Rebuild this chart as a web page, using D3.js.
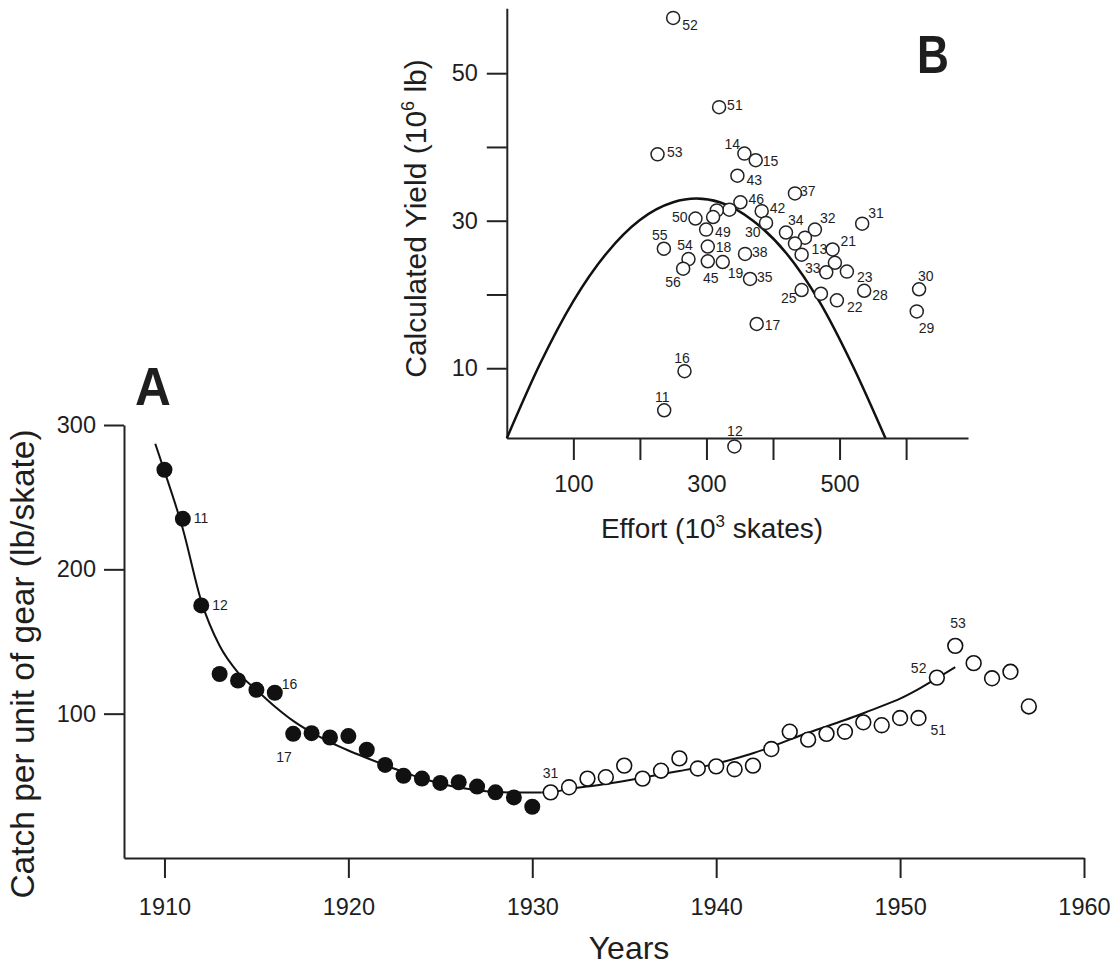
<!DOCTYPE html>
<html>
<head>
<meta charset="utf-8">
<script src="https://cdn.jsdelivr.net/npm/d3@7"></script>
<style>
  body { margin: 0; background: #fff; }
  text { font-family: "Liberation Sans", Arial, sans-serif; fill: #1e1e1e; }
</style>
</head>
<body>
<script>
// ---- panel A : catch per unit of gear ----
const filledYears = [1910,1911,1912,1913,1914,1915,1916,1917,1918,1919,1920,1921,1922,1923,1924,1925,1926,1927,1928,1929,1930]
const filledCatch = [269,235,175,127.5,123,116.5,114.5,86,86.5,83.5,84.5,75,64.5,57,55,52,52.5,49.5,45.5,42,35.5]
const openYears = [1931,1932,1933,1934,1935,1936,1937,1938,1939,1940,1941,1942,1943,1944,1945,1946,1947,1948,1949,1950,1951,1952,1953,1954,1955,1956,1957]
const openCatch = [45.5,49,55,56,64,55,60.5,69,62,63.5,61.5,64,75.5,87.5,82,86,87.5,94,92,97,97,125,147,135,124.5,129,105]
const fit1Years = [1909.5,1910,1911,1912,1913,1914,1915,1916,1917,1918,1919,1920,1921,1922,1923,1924,1925,1926,1927,1928,1929,1930,1930.5]
const fit1Catch = [287,268,228,178,147,128.5,116.5,105,95,87,80.3,74.5,69.3,64.3,59.5,55.2,51.6,48.8,47,45.9,45.4,45.3,45.4]
const fit2Years = [1930.5,1931,1932,1933,1934,1935,1936,1937,1938,1939,1940,1941,1942,1943,1944,1945,1946,1947,1948,1949,1950,1951,1952,1953]
const fit2Catch = [45.4,45.6,47.8,49.5,51.2,53.3,55.6,58,60.3,62.6,65.4,68.8,72.6,77,82,86.8,91.2,95.6,100.3,105.2,110.4,117,124.5,132.2]
const yearTicks = [1910,1920,1930,1940,1950,1960]
const catchTicks = [100,200,300]
const aLabelYears = [1911,1912,1916,1917,1931,1951,1952,1953]
const aLabelText = ["11","12","16","17","31","51","52","53"]

// ---- panel B : yield vs effort ----
const bLabel = ["52","51","53","14","15","43","37","46","","","42","50","","49","30","31","34","32","","","13","21","","33","23","55","54","56","18","45","19","38","35","25","","22","28","30","29","17","16","11","12"]
const bEffort = [250,319,226.5,357,374,346.5,433,351,334.5,315.5,383,283.5,310,299.5,389.5,534,419.5,463,448,433,443,489.5,493,480,511,236,273,265,302,302,324.5,358,365.5,443,472,496,537,619.5,616,375.5,267,236.5,342]
const bYield = [57.5,45.4,39.0,39.1,38.2,36.1,33.7,32.5,31.5,31.4,31.3,30.3,30.5,28.8,29.7,29.6,28.4,28.8,27.7,26.9,25.4,26.1,24.3,23.0,23.1,26.2,24.8,23.5,26.5,24.5,24.4,25.5,22.1,20.6,20.1,19.2,20.5,20.7,17.7,16.0,9.6,4.3,-0.6]
const curveEffort = [0,50,100,150,200,250,285,320,370,420,470,520,569]
const curveYield = [0.5,10.6,19.1,25.6,30.1,32.5,33,32.5,30,25.6,19,10.3,0.5]
const effortTicks = [100,200,300,400,500,600]
const yieldTicks = [10,20,30,40,50]

// label placement (text start / baseline relative to the point)
const aLabelOffset = [[11,4],[11,5],[7,-4],[-17,28],[-8,-14],[12,17],[-26,-5],[-5,-18]]
const bLabelOffset = [[9,12],[8,3],[9.5,2.5],[-20,-4.5],[7,6],[9,9],[5,3],[8,1.5],null,null,
  [8,2],[-23.5,3.5],null,[9,7.5],[-21,14],[6,-6],[2,-7.7],[5,-7],null,null,
  [10,-1],[8,-3],null,[-21.3,0.5],[10,10],[-11.8,-8.7],[-11.3,-9],[-18,18],[8,5.7],[-4.8,22],
  [5,16],[7,3],[7,3],[-20.7,13],null,[10,12],[8,9],[-1,-8],[2,22],[8,6],
  [-10.3,-8],[-9.3,-8],[-7.3,-10]]

const svg = d3.select("body").append("svg")
  .attr("width", 1120).attr("height", 968)

function styleAxis(g, size) {
  g.selectAll("path, line").attr("stroke", "#222").attr("stroke-width", 2)
  g.selectAll("text").style("font-size", size + "px").attr("fill", "#1e1e1e")
}

// ===== A =====
const xA = d3.scaleLinear().domain([1907.8, 1960]).range([124, 1084])
const yA = d3.scaleLinear().domain([0, 300]).range([858, 425])

svg.append("g").attr("transform", "translate(0,858)")
  .call(d3.axisBottom(xA).tickValues(yearTicks).tickSize(20).tickPadding(20)
    .tickSizeOuter(0).tickFormat(d3.format("d")))
  .call(g => styleAxis(g, 23.5))

svg.append("g").attr("transform", "translate(124,0)")
  .call(d3.axisLeft(yA).tickValues(catchTicks).tickSize(20).tickPadding(8).tickSizeOuter(0))
  .call(g => styleAxis(g, 23.5))

const lineA = d3.line().x(d => xA(d[0])).y(d => yA(d[1])).curve(d3.curveMonotoneX)
svg.append("path").datum(d3.zip(fit1Years, fit1Catch))
  .attr("d", lineA).attr("fill", "none").attr("stroke", "#111").attr("stroke-width", 2)
svg.append("path").datum(d3.zip(fit2Years, fit2Catch))
  .attr("d", lineA).attr("fill", "none").attr("stroke", "#111").attr("stroke-width", 2)

svg.append("g").selectAll("circle")
  .data(d3.zip(filledYears, filledCatch))
  .enter().append("circle")
  .attr("cx", d => xA(d[0])).attr("cy", d => yA(d[1]))
  .attr("r", 8).attr("fill", "#111")

svg.append("g").selectAll("circle")
  .data(d3.zip(openYears, openCatch))
  .enter().append("circle")
  .attr("cx", d => xA(d[0])).attr("cy", d => yA(d[1]))
  .attr("r", 7.4).attr("fill", "#fff").attr("stroke", "#111").attr("stroke-width", 1.6)

const allYears = filledYears.concat(openYears)
const allCatch = filledCatch.concat(openCatch)
svg.append("g").selectAll("text")
  .data(aLabelYears)
  .enter().append("text")
  .attr("x", (d, i) => xA(d) + aLabelOffset[i][0])
  .attr("y", (d, i) => yA(allCatch[allYears.indexOf(d)]) + aLabelOffset[i][1])
  .style("font-size", "14px").attr("fill", "#3a3a3a")
  .text((d, i) => aLabelText[i])

svg.append("text")
  .attr("transform", "translate(34,664) rotate(-90)")
  .attr("text-anchor", "middle").style("font-size", "33.5px")
  .text("Catch per unit of gear (lb/skate)")

svg.append("text").attr("x", 629).attr("y", 959)
  .attr("text-anchor", "middle").style("font-size", "32px")
  .text("Years")

svg.append("text")
  .attr("transform", "translate(135,405) scale(0.92,1)")
  .style("font-size", "54px").style("font-weight", "bold")
  .text("A")

// ===== B =====
const xB = d3.scaleLinear().domain([0, 693]).range([506.8, 968])
const yB = d3.scaleLinear().domain([0.54, 58.8]).range([438, 8.3])

svg.append("g").attr("transform", "translate(0,438)")
  .call(d3.axisBottom(xB).tickValues(effortTicks).tickSize(22).tickPadding(15)
    .tickSizeOuter(0).tickFormat(d => d % 200 === 100 ? d : ""))
  .call(g => styleAxis(g, 23.5))

svg.append("g").attr("transform", "translate(506.8,0)")
  .call(d3.axisLeft(yB).tickValues(yieldTicks).tickSize(20).tickPadding(9)
    .tickSizeOuter(0).tickFormat(d => d % 20 === 10 ? d : ""))
  .call(g => styleAxis(g, 23.5))

const lineB = d3.line().x(d => xB(d[0])).y(d => yB(d[1])).curve(d3.curveMonotoneX)
svg.append("path").datum(d3.zip(curveEffort, curveYield))
  .attr("d", lineB).attr("fill", "none").attr("stroke", "#111").attr("stroke-width", 2.5)

const bPts = d3.zip(bEffort, bYield, bLabel, bLabelOffset)
svg.append("g").selectAll("circle")
  .data(bPts)
  .enter().append("circle")
  .attr("cx", d => xB(d[0])).attr("cy", d => yB(d[1]))
  .attr("r", 6.5).attr("fill", "#fff").attr("stroke", "#222").attr("stroke-width", 1.5)

svg.append("g").selectAll("text")
  .data(bPts.filter(d => d[2] !== ""))
  .enter().append("text")
  .attr("x", d => xB(d[0]) + d[3][0])
  .attr("y", d => yB(d[1]) + d[3][1])
  .style("font-size", "14px").attr("fill", "#3a3a3a")
  .text(d => d[2])

const bx = svg.append("text").attr("x", 712).attr("y", 538)
  .attr("text-anchor", "middle").style("font-size", "28px")
bx.append("tspan").text("Effort (10")
bx.append("tspan").attr("dy", -11).style("font-size", "17px").text("3")
bx.append("tspan").attr("dy", 11).text(" skates)")

const by = svg.append("text")
  .attr("transform", "translate(426,218.5) rotate(-90)")
  .attr("text-anchor", "middle").style("font-size", "30px")
by.append("tspan").text("Calculated Yield (10")
by.append("tspan").attr("dy", -12).style("font-size", "18px").text("6")
by.append("tspan").attr("dy", 12).text(" lb)")

svg.append("text")
  .attr("transform", "translate(917,73) scale(0.82,1)")
  .style("font-size", "54px").style("font-weight", "bold")
  .text("B")
</script>
</body>
</html>
